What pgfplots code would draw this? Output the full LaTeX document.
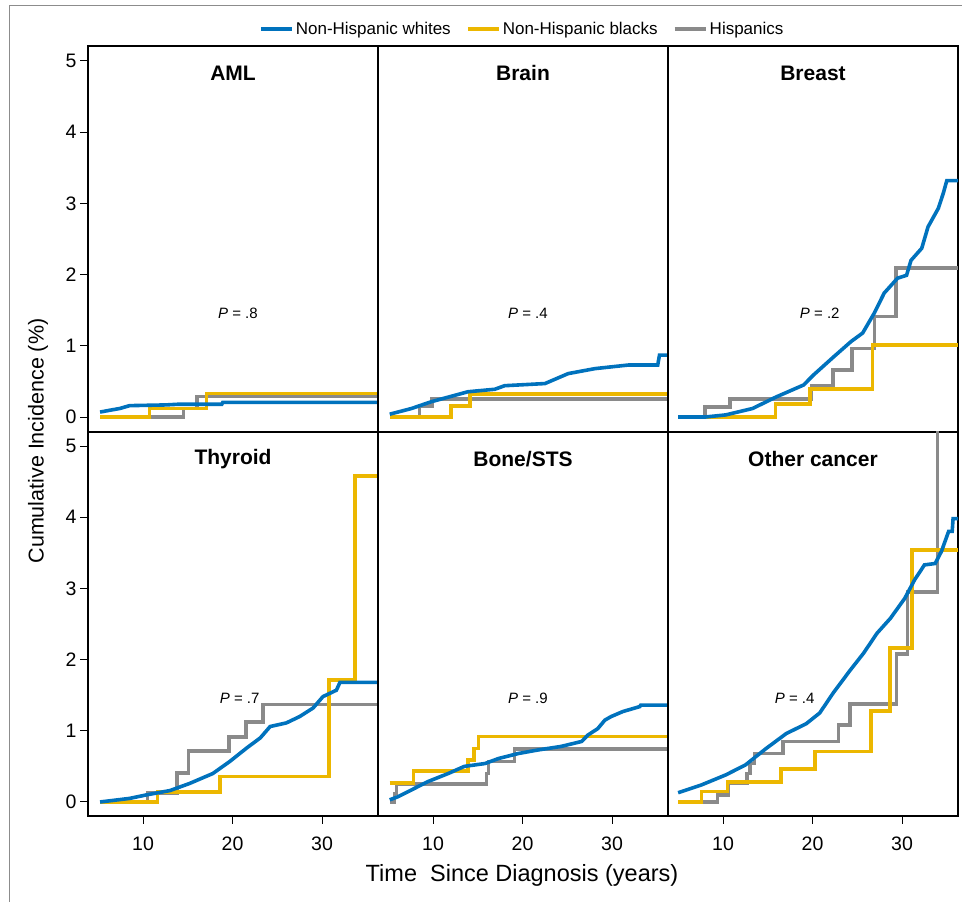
\documentclass[border=0pt]{standalone}
\usepackage{pgfplots}
\pgfplotsset{compat=1.18}
\usepackage{fontspec}
\setmainfont{Liberation Sans}
\definecolor{cblue}{RGB}{0,114,189}
\definecolor{cyel}{RGB}{236,183,0}
\definecolor{cgray}{RGB}{138,138,138}
\pgfplotsset{
 panel/.style={scale only axis, width=290pt, xmin=3.85, xmax=36.25,
   axis line style={line width=1.5pt}, tick style={black, line width=1pt},
   tick align=outside, major tick length=8pt, xtick pos=bottom, ytick pos=left,
   /pgf/number format/assume math mode=true,
   tick label style={font=\fontsize{19.5}{22}\selectfont}, clip=true},
 toprow/.style={height=386pt, ymin=-0.21, ymax=5.21, xtick=\empty},
 botrow/.style={height=384pt, ymin=-0.197, ymax=5.197, xtick={10,20,30}, xticklabel style={yshift=-9pt}},
 leftcol/.style={ytick={0,1,2,3,4,5}},
 othercol/.style={ytick=\empty},
 wh/.style={cblue, line width=3.6pt},
 bl/.style={cyel, line width=3.6pt, const plot},
 hi/.style={cgray, line width=3.6pt, const plot},
}
\newcommand{\ttl}[1]{\node[font=\bfseries\fontsize{21}{24}\selectfont] at (rel axis cs:0.5,0.93) {#1};}
\newcommand{\pv}[3]{\node[font=\fontsize{15}{18}\selectfont] at (axis cs:#1,#2) {\textit{P} = #3};}
\begin{document}
\begin{tikzpicture}
\useasboundingbox (0pt,0pt) rectangle (962pt,902pt);
\draw[black!45, line width=0.8pt] (9pt,0pt) -- (9pt,897pt) -- (962pt,897pt);
% AML
\begin{axis}[panel, toprow, leftcol, at={(88pt,470pt)}, anchor=south west,
  legend style={at={(1.497,1.044)}, anchor=center, draw=none, fill=none,
   font=\fontsize{17}{20}\selectfont, legend columns=3,
   /tikz/every even column/.append style={column sep=13pt}},
  legend image code/.code={\draw[#1] (0pt,0pt) -- (31pt,0pt);}]
\addlegendimage{cblue, line width=4pt}\addlegendentry{Non-Hispanic whites}
\addlegendimage{cyel, line width=4pt}\addlegendentry{Non-Hispanic blacks}
\addlegendimage{cgray, line width=4pt}\addlegendentry{Hispanics}
\addplot[hi, forget plot] coordinates {(5.2,0) (14.5,0.12) (16.0,0.29) (36.3,0.29)};
\addplot[bl, forget plot] coordinates {(5.2,0) (10.7,0.12) (17.1,0.33) (36.3,0.33)};
\addplot[wh, forget plot] coordinates {(5.2,0.07) (6.5,0.10) (7.4,0.12) (8.5,0.16) (12.5,0.17) (14,0.18) (18.8,0.18) (18.9,0.205) (36.3,0.205)};
\ttl{AML}
\pv{20.6}{1.46}{.8}
\end{axis}
% Brain
\begin{axis}[panel, toprow, othercol, at={(378pt,470pt)}, anchor=south west]
\addplot[hi] coordinates {(5.3,0) (8.5,0.155) (9.9,0.25) (36.3,0.25)};
\addplot[bl] coordinates {(5.2,0) (12.0,0.155) (14.1,0.32) (36.3,0.32)};
\addplot[wh] coordinates {(5.16,0.04) (7.6,0.12) (9.8,0.215) (12,0.29) (13.9,0.355) (16.9,0.39) (18.0,0.44) (22.5,0.47) (25.1,0.61) (28.1,0.68) (31.8,0.73) (35.1,0.73) (35.3,0.87) (36.3,0.87)};
\ttl{Brain}
\pv{20.6}{1.46}{.4}
\end{axis}
% Breast
\begin{axis}[panel, toprow, othercol, at={(668pt,470pt)}, anchor=south west]
\addplot[hi] coordinates {(5,0) (8.0,0.145) (10.8,0.25) (19.9,0.435) (22.3,0.66) (24.4,0.965) (26.9,1.41) (29.3,2.09) (36.3,2.09)};
\addplot[bl] coordinates {(5,0) (15.85,0.18) (19.7,0.39) (26.7,1.01) (36.3,1.01)};
\addplot[wh] coordinates {(4.98,0) (8,0.0) (10.3,0.03) (13.3,0.12) (15.9,0.28) (19.0,0.45) (20.1,0.59) (22.4,0.85) (24.3,1.06) (25.6,1.18) (26.9,1.46) (28.0,1.74) (29.5,1.95) (30.5,1.99) (31.0,2.2) (32.2,2.37) (32.9,2.67) (34.05,2.93) (34.6,3.14) (35.0,3.32) (36.3,3.32)};
\ttl{Breast}
\pv{20.8}{1.46}{.2}
\end{axis}
% Thyroid
\begin{axis}[panel, botrow, leftcol, at={(88pt,86pt)}, anchor=south west]
\addplot[hi] coordinates {(5.2,0) (10.5,0.13) (13.8,0.41) (15.1,0.72) (19.6,0.91) (21.5,1.12) (23.4,1.37) (36.3,1.37)};
\addplot[bl] coordinates {(5.2,0) (11.6,0.14) (18.6,0.355) (30.8,1.71) (33.7,4.58) (36.3,4.58)};
\addplot[wh] coordinates {(5.2,0) (8.5,0.05) (10.4,0.1) (13.0,0.16) (15.2,0.26) (17.8,0.40) (19.7,0.57) (21.6,0.76) (23.1,0.90) (24.2,1.06) (26.0,1.11) (27.5,1.2) (29.0,1.32) (30.1,1.48) (31.6,1.57) (32.0,1.68) (36.3,1.68)};
\ttl{Thyroid}
\pv{20.8}{1.46}{.7}
\end{axis}
% Bone/STS
\begin{axis}[panel, botrow, othercol, at={(378pt,86pt)}, anchor=south west]
\addplot[hi] coordinates {(5.2,0) (5.7,0.12) (5.9,0.25) (15.95,0.40) (16.2,0.57) (19.1,0.745) (36.3,0.745)};
\addplot[bl] coordinates {(5.16,0.27) (7.8,0.435) (13.9,0.59) (14.6,0.75) (15.1,0.92) (36.3,0.92)};
\addplot[wh] coordinates {(5.16,0.03) (6.1,0.075) (7.6,0.17) (9.4,0.285) (11.7,0.40) (13.5,0.50) (15.8,0.54) (17.3,0.61) (19.5,0.68) (21.7,0.73) (24.3,0.78) (26.6,0.85) (27.3,0.94) (28.4,1.03) (29.2,1.15) (29.9,1.20) (31.2,1.27) (33.1,1.34) (33.2,1.36) (36.3,1.36)};
\ttl{Bone/STS}
\pv{20.6}{1.46}{.9}
\end{axis}
% Other cancer
\begin{axis}[panel, botrow, othercol, at={(668pt,86pt)}, anchor=south west]
\addplot[hi] coordinates {(5,0) (9.4,0.10) (10.6,0.26) (12.7,0.40) (13.0,0.54) (13.5,0.68) (16.7,0.85) (22.9,1.08) (24.2,1.38) (29.4,2.08) (30.6,2.95) (33.95,6.5) (36.3,6.5)};
\addplot[bl] coordinates {(5,0) (7.6,0.145) (10.5,0.28) (16.5,0.46) (20.3,0.71) (26.5,1.28) (28.65,2.16) (31.1,3.54) (36.3,3.54)};
\addplot[wh] coordinates {(4.98,0.13) (7.6,0.24) (10.3,0.38) (12.5,0.52) (14.8,0.75) (17.05,0.96) (19.3,1.10) (20.8,1.25) (22.3,1.53) (24.2,1.85) (25.7,2.09) (27.2,2.37) (28.7,2.58) (30.3,2.86) (31.4,3.12) (32.5,3.33) (33.7,3.35) (34.4,3.52) (35.2,3.80) (35.6,3.80) (35.7,3.98) (36.3,3.98)};
\ttl{Other cancer}
\pv{18.0}{1.46}{.4}
\end{axis}
\node[rotate=90, font=\fontsize{21.5}{24}\selectfont] at (38pt,461pt) {Cumulative Incidence (\%)};
\node[font=\fontsize{23.5}{26}\selectfont] at (522pt,27pt) {Time\ \ Since Diagnosis (years)};
\end{tikzpicture}
\end{document}
